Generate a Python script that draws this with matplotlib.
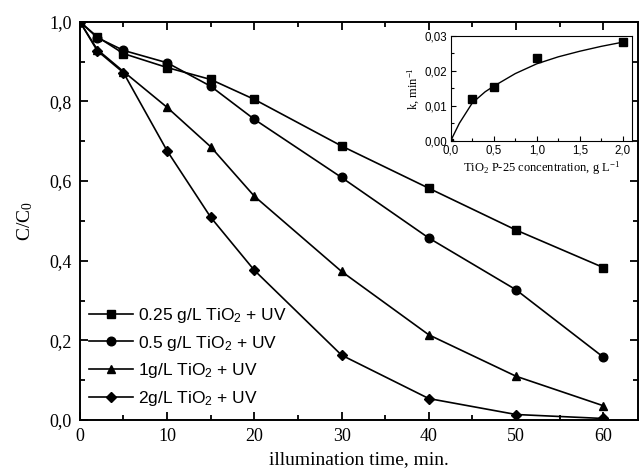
import numpy as np
import matplotlib
matplotlib.use("Agg")
import matplotlib.pyplot as plt
from matplotlib.ticker import MultipleLocator, FuncFormatter

# illumination time, min.
time = [0, 2, 5, 10, 15, 20, 30, 40, 50, 60]
c_025 = [1.0, 0.962, 0.920, 0.885, 0.855, 0.805, 0.688, 0.582, 0.477, 0.383]
c_05 = [1.0, 0.960, 0.928, 0.897, 0.838, 0.755, 0.609, 0.457, 0.327, 0.158]
c_1 = [1.0, 0.930, 0.875, 0.785, 0.686, 0.562, 0.373, 0.214, 0.110, 0.036]
c_2 = [1.0, 0.927, 0.872, 0.676, 0.509, 0.376, 0.163, 0.054, 0.014, 0.004]
labels = [r"0.25 g/L TiO$_\mathsf{2}$ + UV", r"0.5 g/L TiO$_\mathsf{2}$ + UV",
          r"1g/L TiO$_\mathsf{2}$ + UV", r"2g/L TiO$_\mathsf{2}$ + UV"]
markers = ["s", "o", "^", "D"]

# inset: rate constant vs. catalyst concentration
conc = [0.0, 0.25, 0.5, 1.0, 2.0]
k_vals = [0.0, 0.0118, 0.0153, 0.0236, 0.0283]
# fitted curve
fit_x = [0.0, 0.1, 0.25, 0.4, 0.5, 0.75, 1.0, 1.25, 1.5, 1.75, 2.0]
fit_k = [0.0, 0.0050, 0.0108, 0.0140, 0.0156, 0.0192, 0.0220, 0.0240, 0.0256, 0.0270, 0.0282]

serif = "Liberation Serif"
sans = "Liberation Sans"
plt.rcParams["mathtext.fontset"] = "custom"
plt.rcParams["mathtext.rm"] = serif
plt.rcParams["mathtext.it"] = serif + ":italic"
plt.rcParams["mathtext.sf"] = sans


def comma_fmt(decimals):
    return FuncFormatter(lambda v, pos: f"{v:.{decimals}f}".replace(".", ","))


fig = plt.figure(figsize=(6.44, 4.72), dpi=100)
ax = fig.add_axes([0.124, 0.110, 0.867, 0.844])

for y, lab, m in zip([c_025, c_05, c_1, c_2], labels, markers):
    ms = 5.5 if m == "D" else 6.2
    ax.plot(time, y, color="black", lw=1.2, marker=m, ms=ms, label=lab)

ax.set_xlim(0, 64)
ax.set_ylim(0, 1.0)
ax.xaxis.set_major_locator(MultipleLocator(10))
ax.xaxis.set_minor_locator(MultipleLocator(5))
ax.yaxis.set_major_locator(MultipleLocator(0.2))
ax.yaxis.set_minor_locator(MultipleLocator(0.1))
ax.yaxis.set_major_formatter(comma_fmt(1))
ax.tick_params(which="both", direction="in", top=True, right=True, width=1.3)
ax.tick_params(which="major", length=6, labelsize=13, pad=6)
ax.tick_params(which="minor", length=3.5)
for lbl in ax.get_xticklabels() + ax.get_yticklabels():
    lbl.set_fontfamily(serif)
for s in ax.spines.values():
    s.set_linewidth(1.4)
ax.set_xlabel("illumination time, min.", fontfamily=serif, fontsize=14, labelpad=4)
ax.set_ylabel("C/C$_0$", fontfamily=serif, fontsize=14, labelpad=10)

leg = ax.legend(loc="lower left", bbox_to_anchor=(-0.005, 0.0), frameon=False,
                handlelength=2.5, handletextpad=0.3, labelspacing=0.5,
                prop={"family": sans, "size": 12.5}, borderaxespad=0.3)

# inset
ins = fig.add_axes([0.700, 0.702, 0.281, 0.222])
ins.plot(fit_x, fit_k, color="black", lw=1.0)
ins.plot(conc[1:], k_vals[1:], "s", color="black", ms=6)
ins.plot(conc[:1], k_vals[:1], "s", color="black", ms=3)
ins.set_xlim(0, 2.105)
ins.set_ylim(0, 0.03)
ins.xaxis.set_major_locator(MultipleLocator(0.5))
ins.xaxis.set_minor_locator(MultipleLocator(0.25))
ins.yaxis.set_major_locator(MultipleLocator(0.01))
ins.yaxis.set_minor_locator(MultipleLocator(0.005))
ins.xaxis.set_major_formatter(comma_fmt(1))
ins.yaxis.set_major_formatter(comma_fmt(2))
ins.tick_params(which="both", direction="in", width=0.8)
ins.tick_params(which="major", length=3.5, labelsize=8.3, pad=2.5)
ins.tick_params(which="minor", length=2)
for lbl in ins.get_xticklabels() + ins.get_yticklabels():
    lbl.set_fontfamily(sans)
for s in ins.spines.values():
    s.set_linewidth(0.8)
ins.set_xlabel("TiO$_2$ P-25 concentration, g L$^{-1}$", fontfamily=serif,
               fontsize=9, labelpad=2)
ins.set_ylabel("k, min$^{-1}$", fontfamily=serif, fontsize=9, labelpad=2)

fig.savefig("out.png", dpi=100)
